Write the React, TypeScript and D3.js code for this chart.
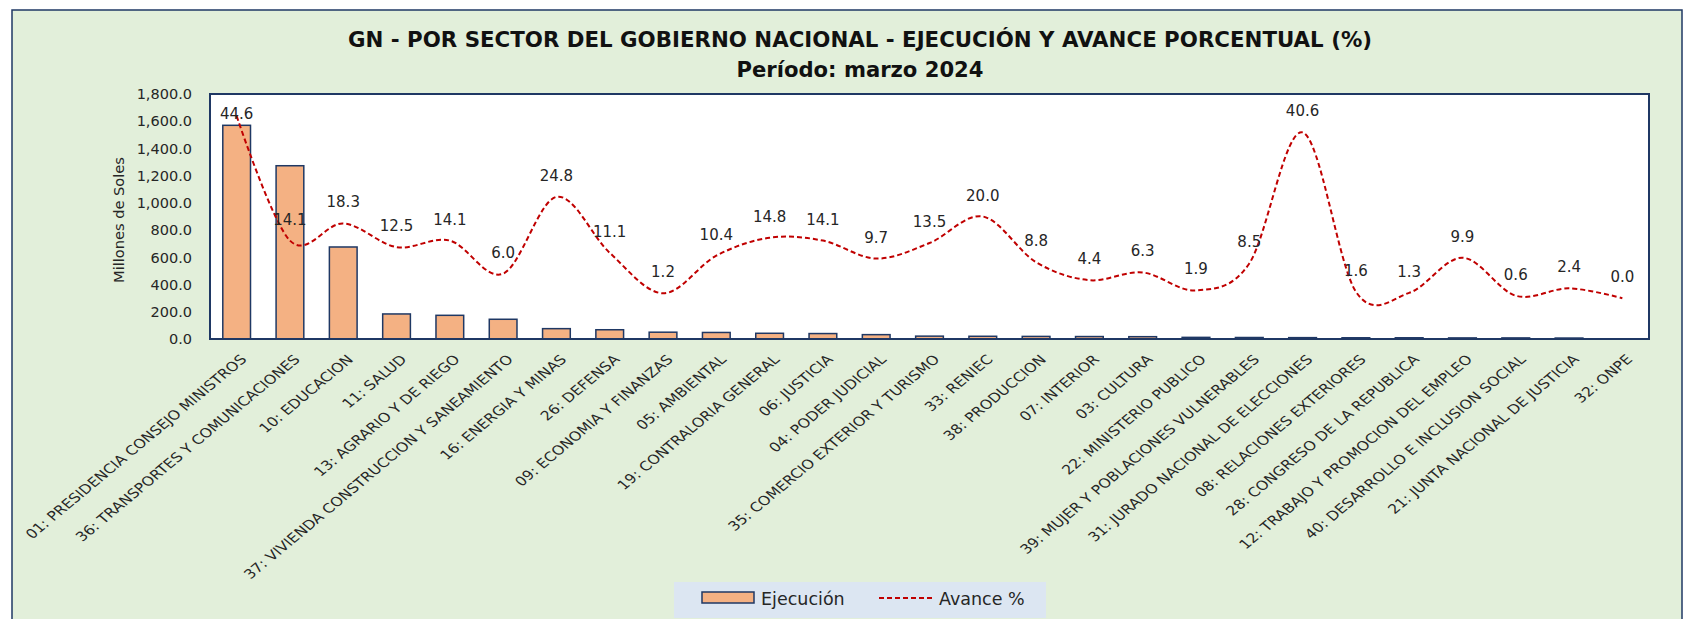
import * as d3 from 'd3';

// Sectores del Gobierno Nacional, en el orden del gráfico
const sectores = [
  '01: PRESIDENCIA CONSEJO MINISTROS',
  '36: TRANSPORTES Y COMUNICACIONES',
  '10: EDUCACION',
  '11: SALUD',
  '13: AGRARIO Y DE RIEGO',
  '37: VIVIENDA CONSTRUCCION Y SANEAMIENTO',
  '16: ENERGIA Y MINAS',
  '26: DEFENSA',
  '09: ECONOMIA Y FINANZAS',
  '05: AMBIENTAL',
  '19: CONTRALORIA GENERAL',
  '06: JUSTICIA',
  '04: PODER JUDICIAL',
  '35: COMERCIO EXTERIOR Y TURISMO',
  '33: RENIEC',
  '38: PRODUCCION',
  '07: INTERIOR',
  '03: CULTURA',
  '22: MINISTERIO PUBLICO',
  '39: MUJER Y POBLACIONES VULNERABLES',
  '31: JURADO NACIONAL DE ELECCIONES',
  '08: RELACIONES EXTERIORES',
  '28: CONGRESO DE LA REPUBLICA',
  '12: TRABAJO Y PROMOCION DEL EMPLEO',
  '40: DESARROLLO E INCLUSION SOCIAL',
  '21: JUNTA NACIONAL DE JUSTICIA',
  '32: ONPE',
];

// Ejecución (millones de soles)
const ejecucion = [
  1570, 1273, 676, 184, 174, 145, 76, 68, 50, 48, 42, 40, 32, 21, 20, 19, 18,
  17, 12, 11, 10, 9, 9, 8, 8, 7, 0,
];

// Avance % (etiquetas del gráfico)
const avance = [
  44.6, 14.1, 18.3, 12.5, 14.1, 6.0, 24.8, 11.1, 1.2, 10.4, 14.8, 14.1, 9.7,
  13.5, 20.0, 8.8, 4.4, 6.3, 1.9, 8.5, 40.6, 1.6, 1.3, 9.9, 0.6, 2.4, 0.0,
];

const yTicks = [0, 200, 400, 600, 800, 1000, 1200, 1400, 1600, 1800];

const W = 1689;
const H = 619;
const plot = { left: 210, top: 94, right: 1649, bottom: 339 };

const NAVY = '#1f3864';
const BAR = '#f4b183';
const RED = '#c00000';
const TEXT = '#262626';

export default function App() {
  const x = d3.scaleBand<string>()
    .domain(sectores)
    .range([plot.left, plot.right])
    .paddingInner(0.48)
    .paddingOuter(0.24);

  const y = d3.scaleLinear().domain([0, 1800]).range([plot.bottom, plot.top]);
  // eje secundario oculto para el avance %
  const y2 = d3.scaleLinear().domain([-10, 50]).range([plot.bottom, plot.top]);

  const cx = (s: string) => (x(s) ?? 0) + x.bandwidth() / 2;

  const line = d3.line<number>()
    .x((_, i) => cx(sectores[i]))
    .y(d => y2(d))
    .curve(d3.curveCardinal.tension(0));

  const fmt = d3.format(',.1f');

  return (
    <svg
      width={W}
      height={H}
      style={{ position: 'absolute', left: 0, top: 0, display: 'block' }}
      fontFamily="'DejaVu Sans', sans-serif"
    >
      <rect x={0} y={0} width={W} height={H} fill="#fff" />
      {/* marco del gráfico */}
      <rect x={12} y={10} width={1670} height={640} fill="#e2efda" stroke={NAVY} strokeWidth={1.5} />

      {/* títulos */}
      <text x={860} y={47} textAnchor="middle" fontSize={21} fontWeight="bold" fill="#111"
        textLength={1024} lengthAdjust="spacingAndGlyphs">
        GN - POR SECTOR DEL GOBIERNO NACIONAL - EJECUCIÓN Y AVANCE PORCENTUAL (%)
      </text>
      <text x={860} y={77} textAnchor="middle" fontSize={21} fontWeight="bold" fill="#111"
        textLength={247} lengthAdjust="spacingAndGlyphs">
        Período: marzo 2024
      </text>

      {/* área de trazado */}
      <rect
        x={plot.left}
        y={plot.top}
        width={plot.right - plot.left}
        height={plot.bottom - plot.top}
        fill="#fff"
      />

      {/* eje Y */}
      {yTicks.map(t => (
        <text key={t} x={192} y={y(t)} dy="0.36em" textAnchor="end" fontSize={14.5} fill={TEXT}>
          {fmt(t)}
        </text>
      ))}
      <text
        transform={`translate(124,220) rotate(-90)`}
        textAnchor="middle"
        fontSize={14.6}
        fill={TEXT}
      >
        Millones de Soles
      </text>

      {/* barras */}
      {sectores.map((s, i) =>
        ejecucion[i] > 0 ? (
          <rect
            key={s}
            x={x(s)}
            y={y(ejecucion[i])}
            width={x.bandwidth()}
            height={y(0) - y(ejecucion[i])}
            fill={BAR}
            stroke={NAVY}
            strokeWidth={1.5}
          />
        ) : null
      )}

      {/* línea de avance */}
      <path d={line(avance) ?? ''} fill="none" stroke={RED} strokeWidth={2} strokeDasharray="5 3" />

      {/* etiquetas de datos */}
      {avance.map((v, i) => {
        const py = y2(v);
        let by = py - 16;
        if (by - 11 < plot.top) by = py + 3;
        return (
          <text key={i} x={cx(sectores[i])} y={by} textAnchor="middle" fontSize={15} fill={TEXT}>
            {v.toFixed(1)}
          </text>
        );
      })}

      {/* borde del área y línea base */}
      <rect
        x={plot.left}
        y={plot.top}
        width={plot.right - plot.left}
        height={plot.bottom - plot.top}
        fill="none"
        stroke={NAVY}
        strokeWidth={2}
      />

      {/* etiquetas del eje X (45°, algo estiradas en horizontal como el original) */}
      {sectores.map(s => (
        <text
          key={s}
          transform={`translate(${cx(s) + 7},357) scale(1.2,1) rotate(-45)`}
          dy="0.35em"
          textAnchor="end"
          fontSize={13.1}
          fill={TEXT}
        >
          {s}
        </text>
      ))}

      {/* leyenda */}
      <rect x={674} y={582} width={372} height={36} fill="#dce6f2" />
      <rect x={702} y={592} width={52} height={11} fill={BAR} stroke={NAVY} strokeWidth={1.5} />
      <text x={761} y={605} fontSize={17.5} fill={TEXT}>Ejecución</text>
      <line x1={879} x2={933} y1={598} y2={598} stroke={RED} strokeWidth={2} strokeDasharray="5 3" />
      <text x={939} y={605} fontSize={17.5} fill={TEXT}>Avance %</text>
    </svg>
  );
}
